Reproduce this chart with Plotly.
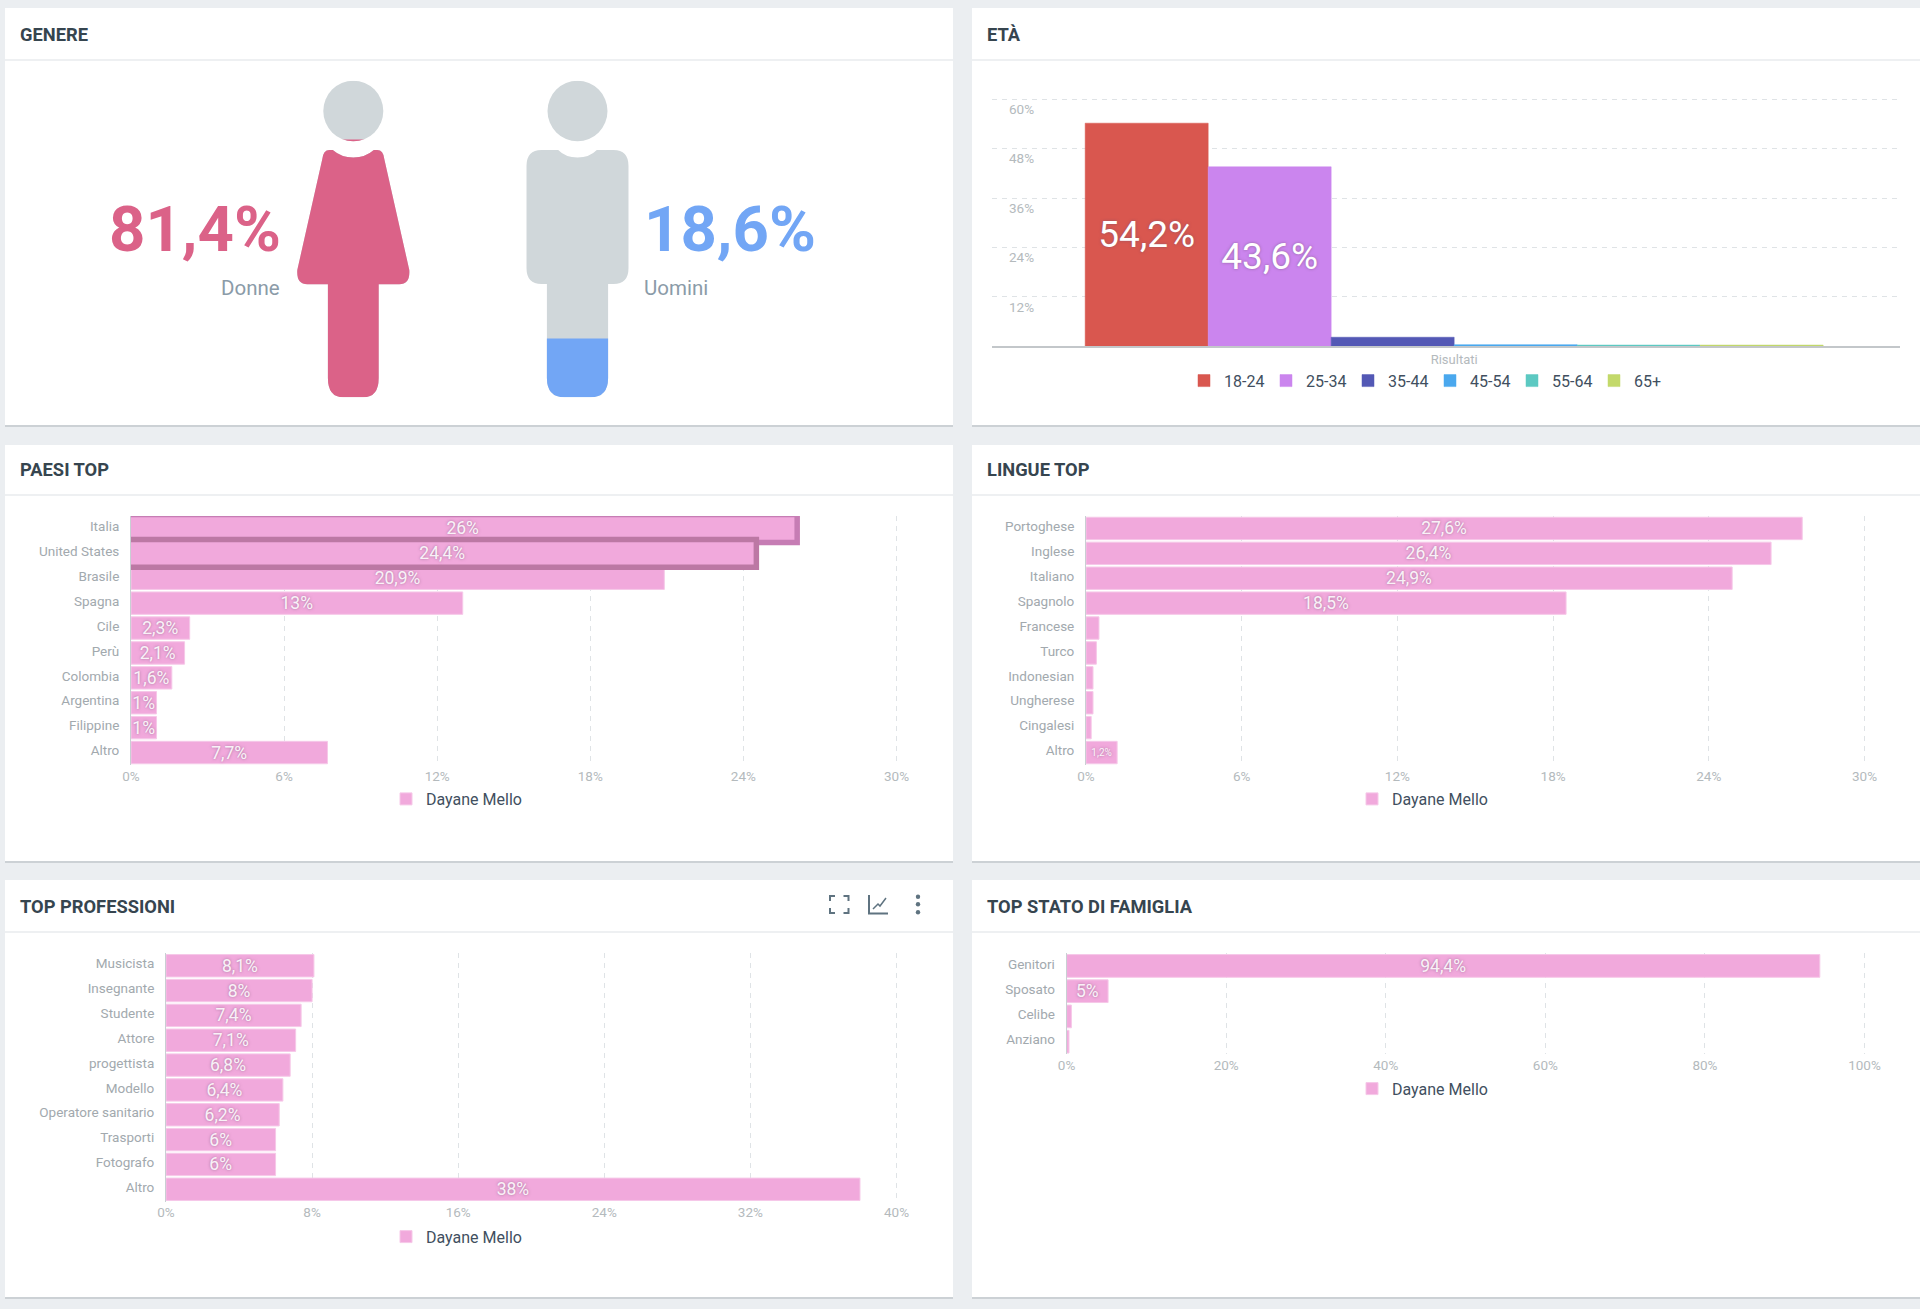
import plotly.graph_objects as go

W, H = 1920, 1309

# ---------- data ----------
gender_labels = ["Donne", "Uomini"]
gender_values = [81.4, 18.6]

age_groups = ["18-24", "25-34", "35-44", "45-54", "55-64", "65+"]
age_values = [54.2, 43.6, 2.2, 0.4, 0.3, 0.3]
age_labels = ["54,2%", "43,6%", "", "", "", ""]
age_ticks = [12, 24, 36, 48, 60]

series_name = "Dayane Mello"

country_names = ["Italia", "United States", "Brasile", "Spagna", "Cile", "Perù",
                 "Colombia", "Argentina", "Filippine", "Altro"]
country_values = [26, 24.4, 20.9, 13, 2.3, 2.1, 1.6, 1, 1, 7.7]
country_labels = ["26%", "24,4%", "20,9%", "13%", "2,3%", "2,1%", "1,6%", "1%", "1%", "7,7%"]
country_ticks = [0, 6, 12, 18, 24, 30]

language_names = ["Portoghese", "Inglese", "Italiano", "Spagnolo", "Francese", "Turco",
                  "Indonesian", "Ungherese", "Cingalesi", "Altro"]
language_values = [27.6, 26.4, 24.9, 18.5, 0.5, 0.4, 0.27, 0.27, 0.2, 1.2]
language_labels = ["27,6%", "26,4%", "24,9%", "18,5%", "", "", "", "", "", "1,2%"]
language_ticks = [0, 6, 12, 18, 24, 30]

job_names = ["Musicista", "Insegnante", "Studente", "Attore", "progettista", "Modello",
             "Operatore sanitario", "Trasporti", "Fotografo", "Altro"]
job_values = [8.1, 8, 7.4, 7.1, 6.8, 6.4, 6.2, 6, 6, 38]
job_labels = ["8,1%", "8%", "7,4%", "7,1%", "6,8%", "6,4%", "6,2%", "6%", "6%", "38%"]
job_ticks = [0, 8, 16, 24, 32, 40]

family_names = ["Genitori", "Sposato", "Celibe", "Anziano"]
family_values = [94.4, 5.2, 0.6, 0.3]
family_labels = ["94,4%", "5%", "", ""]
family_ticks = [0, 20, 40, 60, 80, 100]

# ---------- styles ----------
FONT = "Roboto, sans-serif"
BG = "#ebeef1"
PINK = "#f1a9dc"
PINK_EDGE = "#f6c8e8"
GRID = "#dfe3e6"
TICK = "#b4babd"
CAT = "#a2a9ae"
HEAD = "#36454f"
LEG = "#414f60"
GRAY_ICON = "#d0d7da"
WOMAN = "#db6288"
MAN = "#72a6f5"
LABEL = "rgba(255,255,255,0.9)"
SHADOW = "0px 0px 3px rgba(110,80,110,0.65)"
age_colors = ["#d9574f", "#cb85ee", "#5358b5", "#4aa8ee", "#5cc9c2", "#c3d96a"]
EDGE_PAD = 1.003  # keeps the last gridline inside the plot area
AGE_PAD = 1.01


def fx(px):
    return px / W


def fy(py):
    return 1 - py / H


fig = go.Figure()
shapes, annotations, axes = [], [], {}


def panel(x0, y0, x1, y1, line_y, title, title_y):
    shapes.append(dict(type="rect", xref="paper", yref="paper", layer="below",
                       x0=fx(x0), x1=fx(x1), y0=fy(y0 + 2), y1=fy(y1 + 2),
                       fillcolor="#ccd1d5", line_width=0))
    shapes.append(dict(type="rect", xref="paper", yref="paper", layer="below",
                       x0=fx(x0), x1=fx(x1), y0=fy(y0), y1=fy(y1),
                       fillcolor="white", line_width=0))
    shapes.append(dict(type="line", xref="paper", yref="paper", layer="below",
                       x0=fx(x0), x1=fx(x1), y0=fy(line_y), y1=fy(line_y),
                       line=dict(color="#eef0f2", width=2)))
    annotations.append(dict(text=title, xref="paper", yref="paper", showarrow=False,
                            x=fx(x0 + 13), y=fy(title_y), xanchor="left", yanchor="middle",
                            font=dict(family=FONT, size=18.3, color=HEAD, weight=700)))


panel(5, 8, 953, 425, 60, "GENERE", 34.5)
panel(972, 8, 1920, 425, 60, "ETÀ", 34.5)
panel(5, 445, 953, 861, 495, "PAESI TOP", 469.5)
panel(972, 445, 1920, 861, 495, "LINGUE TOP", 469.5)
panel(5, 880, 953, 1297, 932, "TOP PROFESSIONI", 906.5)
panel(972, 880, 1920, 1297, 932, "TOP STATO DI FAMIGLIA", 906.5)


def legend_cfg(x, y, **kw):
    d = dict(orientation="h", x=fx(x), y=fy(y), xanchor="left", yanchor="middle",
             bgcolor="rgba(0,0,0,0)", indentation=-10,
             font=dict(family=FONT, size=16, color=LEG))
    d.update(kw)
    return d


def hbar(n, names, values, labels, ticks, left, right, top, bottom, leg_x, leg_y,
         highlights=(), label_sizes=None):
    xa, ya = ("x%d" % n), ("y%d" % n)
    axes["xaxis%d" % n] = dict(domain=[fx(left), fx(left + (right - left) * EDGE_PAD)],
                               range=[0, ticks[-1] * EDGE_PAD], anchor=ya,
                               tickmode="array", tickvals=ticks,
                               ticktext=[f"{t}%" for t in ticks],
                               showgrid=True, griddash="5px,5px",
                               gridcolor=GRID, gridwidth=1, zeroline=False, showline=False,
                               ticklabelstandoff=1,
                               tickfont=dict(family=FONT, size=13.5, color=TICK))
    axes["yaxis%d" % n] = dict(domain=[fy(bottom), fy(top)], anchor=xa, type="category",
                               categoryorder="array", categoryarray=names,
                               range=[len(names) - 0.5, -0.5], showgrid=False, zeroline=False,
                               showline=True, linecolor="#c9cfd3", linewidth=1,
                               ticklabelstandoff=8, ticklabelshift=2,
                               tickfont=dict(family=FONT, size=13.5, color=CAT))
    sizes = label_sizes if label_sizes else [17.5] * len(names)
    lname = "legend" if n == 1 else "legend%d" % n

    def bar(idx, color, line_color, line_width, text=False, show=False):
        return go.Bar(orientation="h", x=[values[i] for i in idx], y=[names[i] for i in idx],
                      xaxis=xa, yaxis=ya, width=0.9, name=series_name, legend=lname,
                      showlegend=show, marker=dict(color=color,
                                                   line=dict(color=line_color, width=line_width)),
                      text=[labels[i] for i in idx] if text else None,
                      textposition="inside", insidetextanchor="middle", textangle=0,
                      constraintext="none", cliponaxis=True, hoverinfo="skip",
                      textfont=dict(family=FONT, color=LABEL, size=[sizes[i] for i in idx],
                                    shadow=SHADOW))

    fig.add_trace(bar(list(range(len(names))), PINK, PINK_EDGE, 1, True, True))
    for i, dark in highlights:
        fig.add_trace(bar([i], dark, dark, 11))
        fig.add_trace(bar([i], PINK, PINK, 0, True))
    axes[lname] = legend_cfg(leg_x, leg_y)


hbar(1, country_names, country_values, country_labels, country_ticks,
     131, 896.5, 516, 765, 396, 799, highlights=[(0, "#c67db4"), (1, "#bc78a4")])
hbar(2, language_names, language_values, language_labels, language_ticks,
     1086, 1864.5, 516, 765, 1362, 799,
     label_sizes=[17.5] * 9 + [10])
hbar(3, job_names, job_values, job_labels, job_ticks,
     166, 896.5, 953.3, 1201.7, 396, 1236.7)
hbar(4, family_names, family_values, family_labels, family_ticks,
     1066.6, 1864.5, 953.3, 1054.3, 1362, 1088.7)

# ---------- age chart ----------
AGE_W = 0.13546
axes["xaxis5"] = dict(domain=[fx(992), fx(1900)], range=[-0.509, 0.491], anchor="y5",
                      tickmode="array", tickvals=[0], ticktext=["Risultati"], showgrid=False,
                      zeroline=False, showline=True, linecolor="#c3c7ca", linewidth=2,
                      tickfont=dict(family=FONT, size=13, color=TICK))
axes["yaxis5"] = dict(domain=[fy(346.3), fy(99.3 - 247 * (AGE_PAD - 1))],
                      range=[0, age_ticks[-1] * AGE_PAD], anchor="x5",
                      tickmode="array", tickvals=age_ticks, ticktext=[f"{t}%" for t in age_ticks],
                      showgrid=True, griddash="5px,5px",
                      gridcolor=GRID, zeroline=False, showline=False,
                      ticklabelposition="inside", ticklabelshift=10, ticklabelstandoff=14,
                      tickfont=dict(family=FONT, size=13.5, color=TICK))
for i, (grp, val, lab, col) in enumerate(zip(age_groups, age_values, age_labels, age_colors)):
    fig.add_trace(go.Bar(x=[0], y=[val], name=grp, xaxis="x5", yaxis="y5", legend="legend5",
                         width=AGE_W, offset=(i - 3) * AGE_W, showlegend=True, hoverinfo="skip",
                         marker=dict(color=col, line=dict(color=col, width=0.5)),
                         text=[lab], textposition="inside", insidetextanchor="middle", textangle=0,
                         constraintext="none",
                         textfont=dict(family=FONT, color="white", size=37, shadow=SHADOW)))
axes["legend5"] = legend_cfg(1194, 380.7, entrywidth=47, entrywidthmode="pixels")

# ---------- gender pictograms ----------
TOP, BOTTOM = 80.7, 397.3
SPAN = BOTTOM - TOP
HEAD_BOTTOM = 141.3


def woman_path(c):
    return (f"M{c-20.5},150 Q{c-12},157.5 {c},157.5 Q{c+12},157.5 {c+20.5},150 "
            f"L{c+24},150 Q{c+30},150 {c+31},159 L{c+56},270 Q{c+57},284.3 {c+46},284.3 "
            f"L{c+25.4},284.3 L{c+25.4},378 Q{c+25.4},{BOTTOM} {c+10},{BOTTOM} "
            f"L{c-10},{BOTTOM} Q{c-25.4},{BOTTOM} {c-25.4},378 L{c-25.4},284.3 "
            f"L{c-46},284.3 Q{c-57},284.3 {c-56},270 L{c-31},159 Q{c-30},150 {c-24},150 Z")


def man_path(c):
    return (f"M{c-19.3},150 Q{c-12},157.5 {c},157.5 Q{c+12},157.5 {c+19.3},150 "
            f"L{c+36},150 Q{c+51},150 {c+51},166 L{c+51},268 Q{c+51},284 {c+36},284 "
            f"L{c+30.6},284 L{c+30.6},378 Q{c+30.6},{BOTTOM} {c+13},{BOTTOM} "
            f"L{c-13},{BOTTOM} Q{c-30.6},{BOTTOM} {c-30.6},378 L{c-30.6},284 "
            f"L{c-36},284 Q{c-51},284 {c-51},268 L{c-51},166 Q{c-51},150 {c-36},150 Z")


def pictogram(n, c, path, value, color):
    """Grey silhouette, with a coloured copy clipped by an axis whose height follows the value."""
    top_fill = BOTTOM - SPAN * value / 100
    grey_x, grey_y = "x%d" % n, "y%d" % n
    fill_x, fill_y = "x%d" % (n + 1), "y%d" % (n + 1)
    for k, (t, xa, ya) in enumerate([(TOP, grey_x, grey_y), (top_fill, fill_x, fill_y)]):
        m = n + k
        axes["xaxis%d" % m] = dict(domain=[fx(c - 70), fx(c + 70)], range=[c - 70, c + 70],
                                   anchor=ya, visible=False)
        axes["yaxis%d" % m] = dict(domain=[fy(BOTTOM), fy(t)], range=[BOTTOM, t],
                                   anchor=xa, visible=False)
        fig.add_trace(go.Scatter(x=[c], y=[BOTTOM], mode="none", xaxis=xa, yaxis=ya,
                                 showlegend=False, hoverinfo="skip"))
        col = GRAY_ICON if k == 0 else color
        shapes.append(dict(type="path", path=path(c), xref=xa, yref=ya, layer="above",
                           fillcolor=col, line_width=0))
        shapes.append(dict(type="circle", xref=xa, yref=ya, layer="above",
                           x0=c - 30, x1=c + 30, y0=TOP, y1=HEAD_BOTTOM,
                           fillcolor=col, line_width=0))


pictogram(6, 353.3, woman_path, gender_values[0], WOMAN)
pictogram(8, 577.5, man_path, gender_values[1], MAN)


def note(text, x, y, anchor, size, color, weight=400):
    annotations.append(dict(text=text, xref="paper", yref="paper", showarrow=False,
                            x=fx(x), y=fy(y), xanchor=anchor, yanchor="middle",
                            font=dict(family=FONT, size=size, color=color, weight=weight)))


note(f"{gender_values[0]}%".replace(".", ","), 283, 229, "right", 63.5, WOMAN, 700)
note(gender_labels[0], 282, 287.5, "right", 20.5, "#8b9ba8")
note(f"{gender_values[1]}%".replace(".", ","), 641.5, 229, "left", 63.5, MAN, 700)
note(gender_labels[1], 642, 287.5, "left", 20.5, "#8b9ba8")

# ---------- header icons of the "TOP PROFESSIONI" panel ----------
ICON = "#5f7380"


def icon_path(d):
    shapes.append(dict(type="path", path=d, xref="paper", yref="paper", layer="above",
                       line=dict(color=ICON, width=2)))


def P(pts):
    return "M" + " L".join(f"{fx(x)},{fy(y)}" for x, y in pts)


for pts in ([(830, 901), (830, 896), (835, 896)], [(843.5, 896), (848.5, 896), (848.5, 901)],
            [(830, 908), (830, 913), (835, 913)], [(843.5, 913), (848.5, 913), (848.5, 908)]):
    icon_path(P(pts))
icon_path(P([(869, 895), (869, 913.5), (888, 913.5)]))
shapes.append(dict(type="path", path=P([(873, 909), (878, 904), (880, 906), (886, 898)]),
                   xref="paper", yref="paper", layer="above", line=dict(color=ICON, width=1.5)))
for y in (896.7, 904.3, 912.3):
    shapes.append(dict(type="circle", xref="paper", yref="paper", layer="above",
                       x0=fx(915.8), x1=fx(920.2), y0=fy(y + 2.2), y1=fy(y - 2.2),
                       fillcolor=ICON, line_width=0))

fig.update_layout(width=W, height=H, autosize=False,
                  margin=dict(l=0, r=0, t=0, b=0, autoexpand=False),
                  paper_bgcolor=BG, plot_bgcolor="rgba(0,0,0,0)", barmode="overlay",
                  font=dict(family=FONT), shapes=shapes, annotations=annotations,
                  separators=",.", **axes)

fig.write_html("out.html", config=dict(displayModeBar=False),
               post_script="document.body.style.margin='0';document.body.style.overflow='hidden';")
